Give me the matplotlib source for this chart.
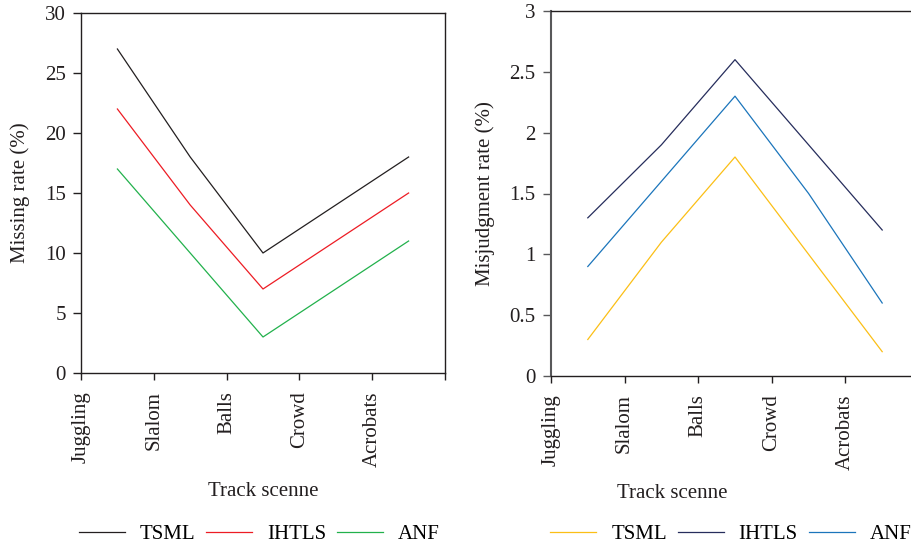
import matplotlib
matplotlib.use("Agg")
import matplotlib.pyplot as plt

plt.rcParams["font.family"] = ["Liberation Serif", "DejaVu Serif"]

scenes = ["Juggling", "Slalom", "Balls", "Crowd", "Acrobats"]
methods = ["TSML", "IHTLS", "ANF"]

# missing rate (%)
miss_tsml = [27, 18, 10, 14, 18]
miss_ihtls = [22, 14, 7, 11, 15]
miss_anf = [17, 10, 3, 7, 11]

# misjudgment rate (%)
mis_tsml = [0.3, 1.1, 1.8, 1.0, 0.2]
mis_ihtls = [1.3, 1.9, 2.6, 1.9, 1.2]
mis_anf = [0.9, 1.6, 2.3, 1.5, 0.6]

left_colors = ["#231f20", "#ed1c24", "#22b14c"]
right_colors = ["#fbbf16", "#262d5c", "#1b75bb"]

FS = 15

fig = plt.figure(figsize=(9.12, 5.5), dpi=100)
ax1 = fig.add_axes([81 / 912, 1 - 373 / 550, 364 / 912, 360 / 550])
ax2 = fig.add_axes([551 / 912, 1 - 376 / 550, 368 / 912, 365 / 550])

xs = [i + 0.5 for i in range(len(scenes))]


def style(ax, ylim, yticks, ylabels, ylabel, xlab_pos, ylab_x, leg_x, spine_col):
    ax.set_xlim(0, len(scenes))
    ax.set_ylim(*ylim)
    ax.set_xticks(range(len(scenes) + 1))
    ax.set_xticklabels(scenes + [""], rotation=90, fontsize=FS)
    ax.set_yticks(yticks)
    ax.set_yticklabels(ylabels, fontsize=FS)
    ax.tick_params(axis="y", direction="out", length=6, width=1, pad=5,
                   color=spine_col, labelcolor="#231f20")
    ax.tick_params(axis="x", direction="out", length=5, width=1, pad=8,
                   color="#231f20", labelcolor="#231f20")
    for s in ax.spines.values():
        s.set_linewidth(1)
        s.set_color("#231f20")
    ax.spines["left"].set_color(spine_col)
    ax.set_xlabel("Track scenne", fontsize=FS, color="#231f20")
    ax.xaxis.set_label_coords(*xlab_pos)
    ax.xaxis.label.set_va("center")
    ax.set_ylabel(ylabel, fontsize=FS, color="#231f20")
    ax.yaxis.set_label_coords(ylab_x, 0.5)
    ax.yaxis.label.set_va("center")
    ax.legend(loc="center", bbox_to_anchor=(leg_x, 1 - 534 / 550),
              bbox_transform=fig.transFigure, ncol=3, frameon=False,
              fontsize=FS, handlelength=2.2, handletextpad=0.72,
              columnspacing=0.53, borderaxespad=0, borderpad=0)


for vals, c, name in zip([miss_tsml, miss_ihtls, miss_anf], left_colors, methods):
    ax1.plot(xs, vals, color=c, lw=0.9, label=name)
style(ax1, (0, 30), [0, 5, 10, 15, 20, 25, 30],
      ["0", "5", "10", "15", "20", "25", "30"], "Missing rate (%)",
      (0.5, -0.33), -0.168, 259.5 / 912, "#231f20")

for vals, c, name in zip([mis_tsml, mis_ihtls, mis_anf], right_colors, methods):
    ax2.plot(xs, vals, color=c, lw=0.9, label=name)
style(ax2, (0, 3), [0, 0.5, 1, 1.5, 2, 2.5, 3],
      ["0", "0.5", "1", "1.5", "2", "2.5", "3"], "Misjudgment rate (%)",
      (0.329, -0.323), -0.179, 731 / 912, "#58585a")
ax2.spines["left"].set_linewidth(1.5)

fig.savefig("out.png", dpi=100)
